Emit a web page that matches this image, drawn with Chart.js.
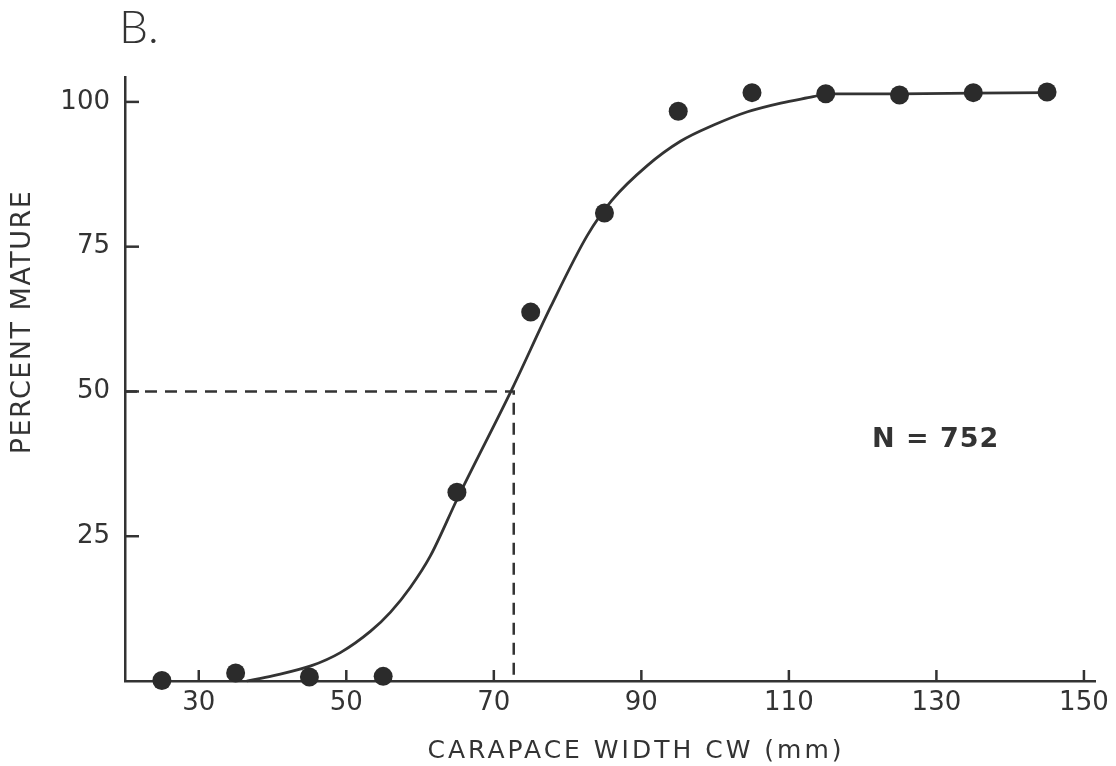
<!DOCTYPE html>
<html>
<head>
<meta charset="utf-8">
<script src="https://cdn.jsdelivr.net/npm/chart.js@4.4.0/dist/chart.umd.min.js"></script>
<style>
  html, body { margin: 0; padding: 0; background: #fff; }
  #wrap { width: 1116px; height: 766px; }
</style>
</head>
<body>
<div id="wrap"><canvas id="c" width="1116" height="766"></canvas></div>
<script>
// observed points (percent mature per 10 mm class)
const dotX = [25, 35, 45, 55, 65, 75, 85, 95, 105, 115, 125, 135, 145];
const dotY = [0.1, 1.4, 0.7, 0.8, 32.6, 63.7, 80.8, 98.4, 101.6, 101.4, 101.2, 101.6, 101.7];

// fitted curve
const curveX = [36.5, 40, 45.2, 49.2, 53.3, 56, 58.7, 61.4, 65.1, 72.5, 77.7, 82.7, 86, 90.8, 95.3, 99.8, 104.4, 108.9, 113.3, 115.2, 125, 135, 145];
const curveY = [0, 0.9, 2.6, 4.9, 8.6, 11.9, 16.2, 21.6, 31.6, 50.5, 64.6, 77.0, 83.0, 89.0, 93.2, 96.0, 98.3, 99.8, 100.9, 101.4, 101.4, 101.5, 101.6];

// dashed 50% guide
const guideX = [20, 72.7, 72.7];
const guideY = [50, 50, 0];

const xTicks = [30, 50, 70, 90, 110, 130, 150];
const yTicks = [25, 50, 75, 100];

const ink = "#333";
const zip = (xs, ys) => xs.map((x, i) => ({ x: x, y: ys[i] }));

// texts + inward tick marks
const extras = {
  id: "extras",
  afterDraw(chart) {
    const ctx = chart.ctx;
    const xs = chart.scales.x, ys = chart.scales.y;
    ctx.save();
    ctx.strokeStyle = ink;
    ctx.lineWidth = 2.5;
    xTicks.forEach(v => {
      const p = xs.getPixelForValue(v);
      ctx.beginPath(); ctx.moveTo(p, xs.top); ctx.lineTo(p, xs.top - 11); ctx.stroke();
    });
    yTicks.forEach(v => {
      const p = ys.getPixelForValue(v);
      ctx.beginPath(); ctx.moveTo(ys.right, p); ctx.lineTo(ys.right + 14, p); ctx.stroke();
    });

    ctx.fillStyle = ink;
    ctx.textBaseline = "alphabetic";
    ctx.textAlign = "left";
    ctx.font = '300 46px Lato, "Open Sans", sans-serif';
    ctx.fillText("B.", 119, 43);

    ctx.font = 'bold 27px "DejaVu Sans"';
    ctx.letterSpacing = "1px";
    ctx.fillText("N = 752", 872, 447);

    ctx.textAlign = "center";
    ctx.textBaseline = "middle";
    ctx.font = '25px "DejaVu Sans"';
    ctx.letterSpacing = "3px";
    ctx.fillText("CARAPACE WIDTH CW (mm)", 636, 751);

    ctx.save();
    ctx.translate(23, 322);
    ctx.rotate(-Math.PI / 2);
    ctx.font = '27px "DejaVu Sans"';
    ctx.letterSpacing = "1.5px";
    ctx.fillText("PERCENT MATURE", 0, 0);
    ctx.restore();
    ctx.restore();
  }
};

new Chart(document.getElementById("c"), {
  type: "scatter",
  data: {
    datasets: [
      {
        data: zip(dotX, dotY),
        showLine: false,
        pointRadius: 9.5,
        pointBackgroundColor: "#2b2b2b",
        pointBorderWidth: 0,
        clip: false,
        order: 0
      },
      {
        data: zip(curveX, curveY),
        showLine: true,
        borderColor: ink,
        borderWidth: 2.8,
        pointRadius: 0,
        cubicInterpolationMode: "monotone",
        clip: false,
        order: 1
      },
      {
        data: zip(guideX, guideY),
        showLine: true,
        borderColor: ink,
        borderWidth: 2.5,
        borderDash: [12, 8],
        pointRadius: 0,
        tension: 0,
        order: 2
      }
    ]
  },
  options: {
    responsive: false,
    animation: false,
    layout: { padding: { top: 77, right: 21, left: 0, bottom: 0 } },
    plugins: { legend: { display: false }, tooltip: { enabled: false }, title: { display: false } },
    scales: {
      x: {
        type: "linear",
        min: 20,
        max: 151.5,
        afterBuildTicks: s => { s.ticks = xTicks.map(v => ({ value: v })); },
        afterFit: s => { s.height = 85; },
        grid: { display: false, drawTicks: false },
        border: { display: true, color: ink, width: 2.5 },
        ticks: { color: ink, padding: 7, font: { family: "DejaVu Sans", size: 26 }, maxRotation: 0 }
      },
      y: {
        type: "linear",
        min: 0,
        max: 104.3,
        afterBuildTicks: s => { s.ticks = yTicks.map(v => ({ value: v })); },
        afterFit: s => { s.width = 125; },
        grid: { display: false, drawTicks: false },
        border: { display: true, color: ink, width: 2.5 },
        ticks: { color: ink, padding: 15, font: { family: "DejaVu Sans", size: 26 } }
      }
    }
  },
  plugins: [extras]
});
</script>
</body>
</html>
